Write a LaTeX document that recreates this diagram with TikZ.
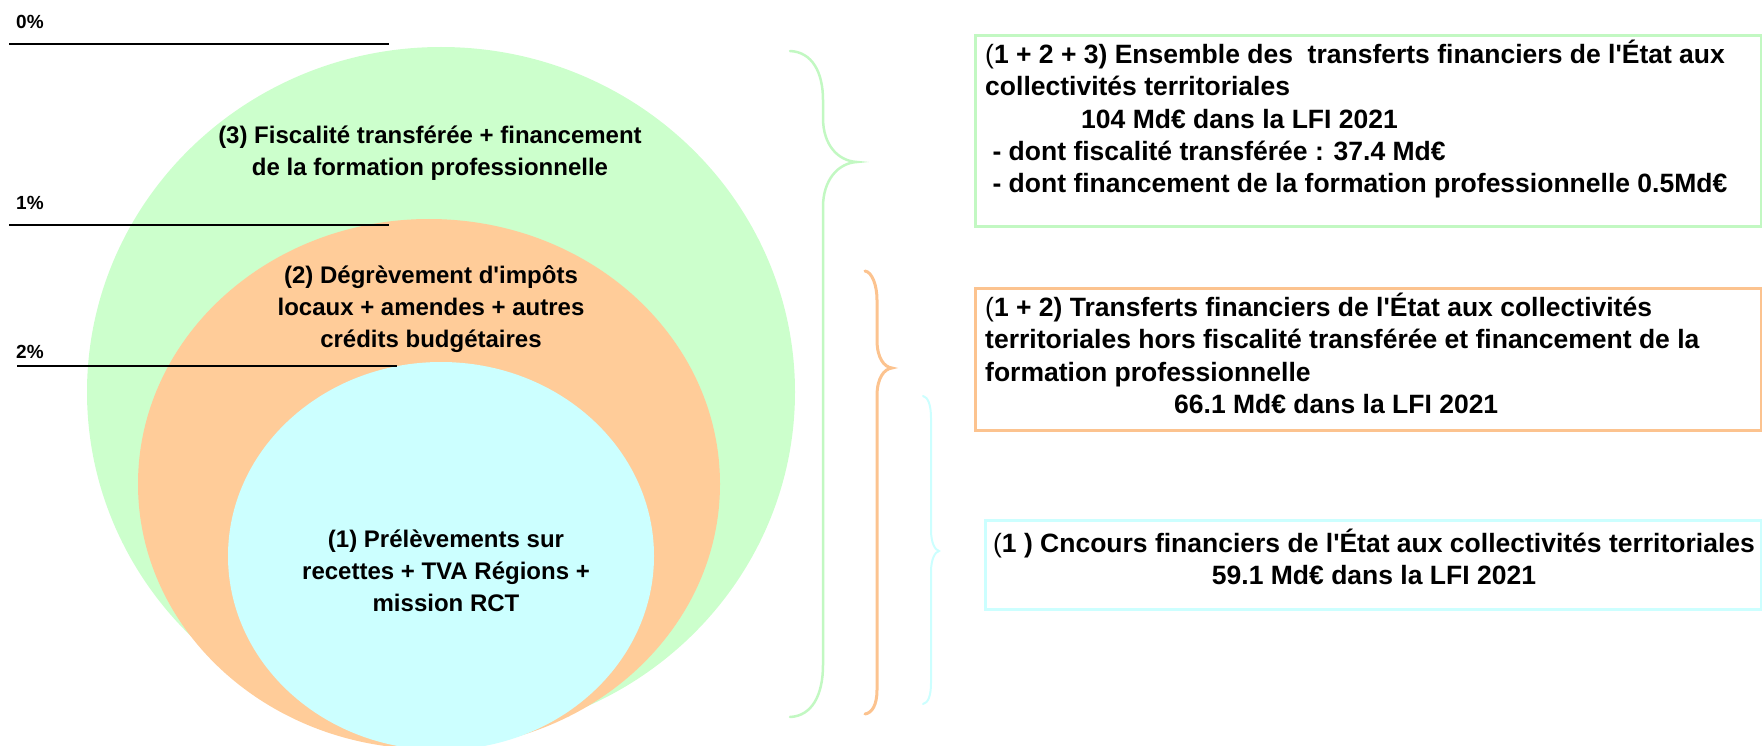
\documentclass[tikz,border=0pt]{standalone}
\usepackage{fontspec}
\setmainfont{Liberation Sans}
\usepackage{xcolor}
\usetikzlibrary{positioning}
\definecolor{vertclair}{HTML}{CCFFCC}
\definecolor{orangeclair}{HTML}{FFCC99}
\definecolor{cyanclair}{HTML}{CCFFFF}
\definecolor{vertbord}{HTML}{C2F8C2}
\definecolor{orangebord}{HTML}{FCC38F}
\newcommand\apos{\textquotesingle}

\begin{document}
\begin{tikzpicture}[x=1pt,y=-1pt,
  lbl/.style={font=\fontsize{24}{32}\selectfont\bfseries, inner sep=0pt},
  boite/.style={font=\fontsize{26.5}{32.3}\selectfont\bfseries, inner sep=0pt},
  pct/.style={font=\fontsize{19}{22}\selectfont\bfseries, inner sep=0pt, anchor=west},
  cadre/.style={draw=#1, line width=3pt, anchor=north west, inner sep=0pt},
  accolade/.style={draw=#1, line width=2.5pt, line cap=round},
]
\useasboundingbox (0,0) rectangle (1762,746);
\clip (0,0) rectangle (1762,746);
% cercles
\fill[vertclair] (441,392) ellipse [x radius=354, y radius=345];
\fill[orangeclair] (429,484) ellipse [x radius=291, y radius=265];
\fill[cyanclair] (441,556) ellipse [x radius=213, y radius=194];
\node[lbl, align=center] (fisc) at (430,153) {(3) Fiscalité transférée + financement\\de la formation professionnelle};
\node[lbl, align=center] (degr) at (431,309) {(2) Dégrèvement d\apos impôts\\locaux + amendes + autres\\crédits budgétaires};
\node[lbl, align=center] (prel) at (446,571) {(1) Prélèvements sur\\recettes + TVA Régions +\\mission RCT};
% graduations
\node[pct] (p0) at (16,22) {0\%};
\node[pct] (p1) at (16,203) {1\%};
\node[pct] (p2) at (16,352) {2\%};
\draw[line width=2pt] (9,44) -- (389,44);
\draw[line width=2pt] (9,225) -- (389,225);
\draw[line width=2pt] (17,366) -- (397,366);
% accolades
\draw[accolade=vertbord] (790,51) .. controls (812,52) and (823,72) .. (823,100) -- (823,118)
  .. controls (823,145) and (838,161) .. (857,162) .. controls (838,163) and (823,180) .. (823,207)
  -- (823,665) .. controls (823,695) and (812,716) .. (790,717);
\draw[accolade=orangebord, line width=3pt] (865,271) .. controls (872,272) and (877,285) .. (877,300) -- (877,340)
  .. controls (877,358) and (884,367) .. (892,368) .. controls (884,369) and (877,378) .. (877,396)
  -- (877,690) .. controls (877,705) and (872,713) .. (865,714);
\draw[accolade=cyanclair, line width=2pt] (923,396) .. controls (928,397) and (931,405) .. (931,418) -- (931,530)
  .. controls (931,543) and (935,550) .. (939,551) .. controls (935,552) and (931,559) .. (931,572)
  -- (931,683) .. controls (931,696) and (928,703) .. (923,704);
% cadres
\node[cadre=vertbord, minimum width=786pt, minimum height=191pt] (gbox) at (974,34) {};
\node[cadre=orangebord, minimum width=786pt, minimum height=142pt] (obox) at (974,287) {};
\node[cadre=cyanclair, minimum width=776pt, minimum height=89pt] (cbox) at (984,519) {};
\node[boite, align=left, anchor=north west] (gtext) at ([xshift=11pt,yshift=-6pt]gbox.north west)
  {{\mdseries(}1 + 2 + 3) Ensemble des~ transferts financiers de l\apos État aux\\
   collectivités territoriales\\
   \hspace*{96pt}104 Md€ dans la LFI 2021\\
   \ - dont fiscalité transférée : 37.4 Md€\\
   \ - dont financement de la formation professionnelle 0.5Md€};
\node[boite, align=left, anchor=north west] (otext) at ([xshift=11pt,yshift=-6pt]obox.north west)
  {{\mdseries(}1 + 2) Transferts financiers de l\apos État aux collectivités\\
   territoriales hors fiscalité transférée et financement de la\\
   formation professionnelle\\
   \hspace*{189pt}66.1 Md€ dans la LFI 2021};
\node[boite, align=center] (ctext) at (1374,557)
  {{\mdseries(}1 ) Cncours financiers de l\apos État aux collectivités territoriales\\
   59.1 Md€ dans la LFI 2021};
\end{tikzpicture}
\end{document}
